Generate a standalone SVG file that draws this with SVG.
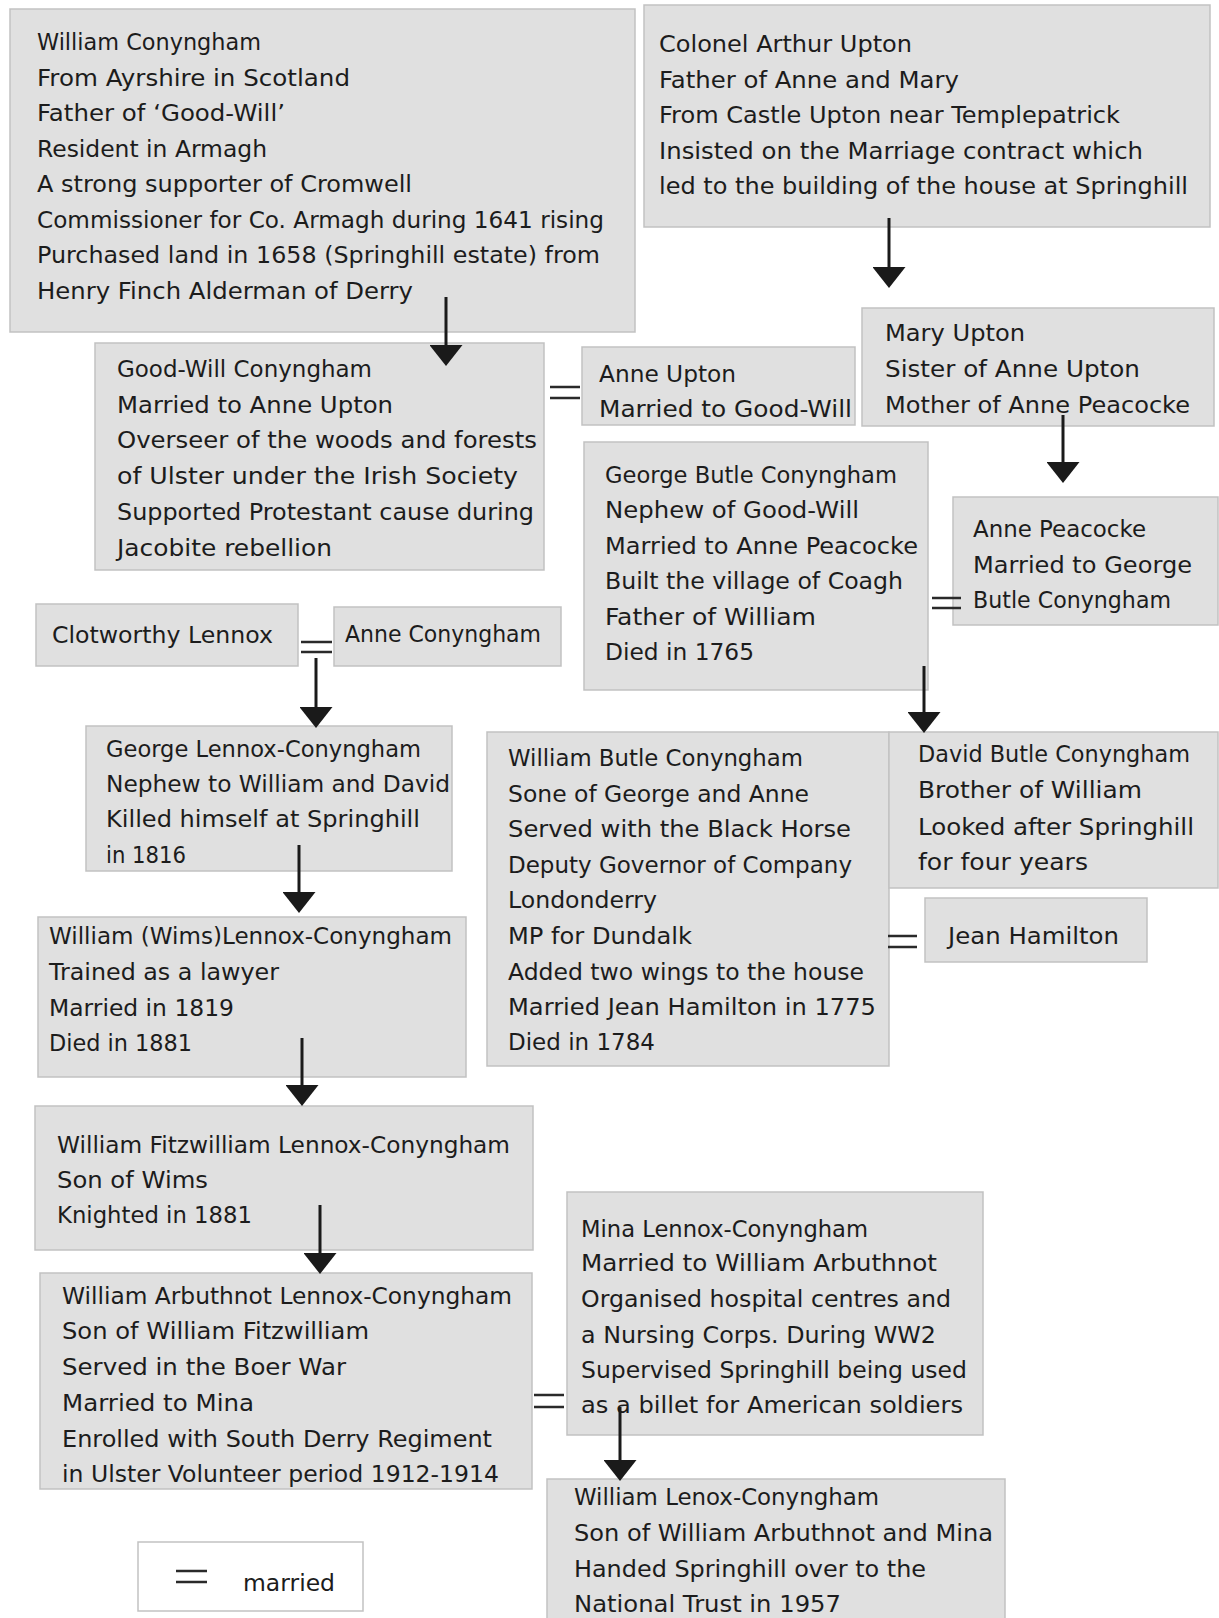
<svg xmlns="http://www.w3.org/2000/svg" width="1219" height="1618" viewBox="0 0 1219 1618">
<style>
.box{fill:#e0e0e0;stroke:#c2c2c2;stroke-width:1.5}
.leg{fill:#ffffff;stroke:#c2c2c2;stroke-width:1.5}
text{font-family:"DejaVu Sans","Liberation Sans",sans-serif;font-size:23.5px;fill:#1c1c1c}
.arr{stroke:#1a1a1a;stroke-width:3;fill:none}
.eq{stroke:#2a2a2a;stroke-width:2.5;fill:none}
</style>
<defs>
<marker id="head" markerUnits="userSpaceOnUse" markerWidth="21" markerHeight="33" viewBox="0 0 21 33" refX="0" refY="16.5" orient="auto">
<path d="M0,0 L21,16.5 L0,33 Z" fill="#1a1a1a"/>
</marker>
</defs>
<rect width="1219" height="1618" fill="#ffffff"/>

<g id="william-conyngham">
<rect class="box" x="10" y="9" width="625" height="323"/>
<text x="37" y="50" textLength="224" lengthAdjust="spacingAndGlyphs">William Conyngham</text>
<text x="37" y="85.5" textLength="313" lengthAdjust="spacingAndGlyphs">From Ayrshire in Scotland</text>
<text x="37" y="121" textLength="248" lengthAdjust="spacingAndGlyphs">Father of ‘Good-Will’</text>
<text x="37" y="156.5" textLength="230" lengthAdjust="spacingAndGlyphs">Resident in Armagh</text>
<text x="37" y="192" textLength="375" lengthAdjust="spacingAndGlyphs">A strong supporter of Cromwell</text>
<text x="37" y="227.5" textLength="567" lengthAdjust="spacingAndGlyphs">Commissioner for Co. Armagh during 1641 rising</text>
<text x="37" y="263" textLength="563" lengthAdjust="spacingAndGlyphs">Purchased land in 1658 (Springhill estate) from</text>
<text x="37" y="298.5" textLength="376" lengthAdjust="spacingAndGlyphs">Henry Finch Alderman of Derry</text>
</g>

<g id="arthur-upton">
<rect class="box" x="644" y="5" width="566" height="222"/>
<text x="659" y="52" textLength="253" lengthAdjust="spacingAndGlyphs">Colonel Arthur Upton</text>
<text x="659" y="87.5" textLength="300" lengthAdjust="spacingAndGlyphs">Father of Anne and Mary</text>
<text x="659" y="123" textLength="461" lengthAdjust="spacingAndGlyphs">From Castle Upton near Templepatrick</text>
<text x="659" y="158.5" textLength="484" lengthAdjust="spacingAndGlyphs">Insisted on the Marriage contract which</text>
<text x="659" y="194" textLength="529" lengthAdjust="spacingAndGlyphs">led to the building of the house at Springhill</text>
</g>

<g id="good-will-conyngham">
<rect class="box" x="95" y="343" width="449" height="227"/>
<text x="117" y="377" textLength="255" lengthAdjust="spacingAndGlyphs">Good-Will Conyngham</text>
<text x="117" y="413" textLength="276" lengthAdjust="spacingAndGlyphs">Married to Anne Upton</text>
<text x="117" y="448" textLength="420" lengthAdjust="spacingAndGlyphs">Overseer of the woods and forests</text>
<text x="117" y="484" textLength="401" lengthAdjust="spacingAndGlyphs">of Ulster under the Irish Society</text>
<text x="117" y="520" textLength="417" lengthAdjust="spacingAndGlyphs">Supported Protestant cause during</text>
<text x="117" y="556" textLength="215" lengthAdjust="spacingAndGlyphs">Jacobite rebellion</text>
</g>

<g id="anne-upton">
<rect class="box" x="582" y="347" width="273" height="78"/>
<text x="599" y="382" textLength="137" lengthAdjust="spacingAndGlyphs">Anne Upton</text>
<text x="599" y="417" textLength="253" lengthAdjust="spacingAndGlyphs">Married to Good-Will</text>
</g>

<g id="mary-upton">
<rect class="box" x="862" y="308" width="352" height="118"/>
<text x="885" y="341" textLength="140" lengthAdjust="spacingAndGlyphs">Mary Upton</text>
<text x="885" y="377" textLength="255" lengthAdjust="spacingAndGlyphs">Sister of Anne Upton</text>
<text x="885" y="413" textLength="305" lengthAdjust="spacingAndGlyphs">Mother of Anne Peacocke</text>
</g>

<g id="george-butle-conyngham">
<rect class="box" x="584" y="442" width="344" height="248"/>
<text x="605" y="483" textLength="292" lengthAdjust="spacingAndGlyphs">George Butle Conyngham</text>
<text x="605" y="518" textLength="254" lengthAdjust="spacingAndGlyphs">Nephew of Good-Will</text>
<text x="605" y="554" textLength="313" lengthAdjust="spacingAndGlyphs">Married to Anne Peacocke</text>
<text x="605" y="589" textLength="298" lengthAdjust="spacingAndGlyphs">Built the village of Coagh</text>
<text x="605" y="625" textLength="211" lengthAdjust="spacingAndGlyphs">Father of William</text>
<text x="605" y="660" textLength="149" lengthAdjust="spacingAndGlyphs">Died in 1765</text>
</g>

<g id="anne-peacocke">
<rect class="box" x="953" y="497" width="265" height="128"/>
<text x="973" y="537" textLength="173" lengthAdjust="spacingAndGlyphs">Anne Peacocke</text>
<text x="973" y="573" textLength="219" lengthAdjust="spacingAndGlyphs">Married to George</text>
<text x="973" y="608" textLength="198" lengthAdjust="spacingAndGlyphs">Butle Conyngham</text>
</g>

<g id="clotworthy-lennox">
<rect class="box" x="36" y="604" width="262" height="62"/>
<text x="52" y="643" textLength="221" lengthAdjust="spacingAndGlyphs">Clotworthy Lennox</text>
</g>

<g id="anne-conyngham">
<rect class="box" x="334" y="607" width="227" height="59"/>
<text x="345" y="642" textLength="196" lengthAdjust="spacingAndGlyphs">Anne Conyngham</text>
</g>

<g id="george-lennox-conyngham">
<rect class="box" x="86" y="726" width="366" height="145"/>
<text x="106" y="757" textLength="315" lengthAdjust="spacingAndGlyphs">George Lennox-Conyngham</text>
<text x="106" y="792" textLength="344" lengthAdjust="spacingAndGlyphs">Nephew to William and David</text>
<text x="106" y="827" textLength="314" lengthAdjust="spacingAndGlyphs">Killed himself at Springhill</text>
<text x="106" y="863" textLength="80" lengthAdjust="spacingAndGlyphs">in 1816</text>
</g>

<g id="wims-lennox-conyngham">
<rect class="box" x="38" y="917" width="428" height="160"/>
<text x="49" y="944" textLength="403" lengthAdjust="spacingAndGlyphs">William (Wims)Lennox-Conyngham</text>
<text x="49" y="980" textLength="230" lengthAdjust="spacingAndGlyphs">Trained as a lawyer</text>
<text x="49" y="1016" textLength="185" lengthAdjust="spacingAndGlyphs">Married in 1819</text>
<text x="49" y="1051" textLength="143" lengthAdjust="spacingAndGlyphs">Died in 1881</text>
</g>

<g id="william-fitzwilliam">
<rect class="box" x="35" y="1106" width="498" height="144"/>
<text x="57" y="1153" textLength="453" lengthAdjust="spacingAndGlyphs">William Fitzwilliam Lennox-Conyngham</text>
<text x="57" y="1188" textLength="151" lengthAdjust="spacingAndGlyphs">Son of Wims</text>
<text x="57" y="1223" textLength="195" lengthAdjust="spacingAndGlyphs">Knighted in 1881</text>
</g>

<g id="william-arbuthnot">
<rect class="box" x="40" y="1273" width="492" height="216"/>
<text x="62" y="1304" textLength="450" lengthAdjust="spacingAndGlyphs">William Arbuthnot Lennox-Conyngham</text>
<text x="62" y="1339" textLength="307" lengthAdjust="spacingAndGlyphs">Son of William Fitzwilliam</text>
<text x="62" y="1375" textLength="284" lengthAdjust="spacingAndGlyphs">Served in the Boer War</text>
<text x="62" y="1411" textLength="192" lengthAdjust="spacingAndGlyphs">Married to Mina</text>
<text x="62" y="1447" textLength="430" lengthAdjust="spacingAndGlyphs">Enrolled with South Derry Regiment</text>
<text x="62" y="1482" textLength="437" lengthAdjust="spacingAndGlyphs">in Ulster Volunteer period 1912-1914</text>
</g>

<g id="mina-lennox-conyngham">
<rect class="box" x="567" y="1192" width="416" height="243"/>
<text x="581" y="1237" textLength="287" lengthAdjust="spacingAndGlyphs">Mina Lennox-Conyngham</text>
<text x="581" y="1271" textLength="356" lengthAdjust="spacingAndGlyphs">Married to William Arbuthnot</text>
<text x="581" y="1307" textLength="370" lengthAdjust="spacingAndGlyphs">Organised hospital centres and</text>
<text x="581" y="1343" textLength="355" lengthAdjust="spacingAndGlyphs">a Nursing Corps. During WW2</text>
<text x="581" y="1378" textLength="386" lengthAdjust="spacingAndGlyphs">Supervised Springhill being used</text>
<text x="581" y="1413" textLength="382" lengthAdjust="spacingAndGlyphs">as a billet for American soldiers</text>
</g>

<g id="william-lenox-conyngham">
<rect class="box" x="547" y="1479" width="458" height="150"/>
<text x="574" y="1505" textLength="305" lengthAdjust="spacingAndGlyphs">William Lenox-Conyngham</text>
<text x="574" y="1541" textLength="419" lengthAdjust="spacingAndGlyphs">Son of William Arbuthnot and Mina</text>
<text x="574" y="1577" textLength="352" lengthAdjust="spacingAndGlyphs">Handed Springhill over to the</text>
<text x="574" y="1612" textLength="267" lengthAdjust="spacingAndGlyphs">National Trust in 1957</text>
</g>

<g id="william-butle-conyngham">
<rect class="box" x="487" y="732" width="402" height="334"/>
<text x="508" y="766" textLength="295" lengthAdjust="spacingAndGlyphs">William Butle Conyngham</text>
<text x="508" y="802" textLength="301" lengthAdjust="spacingAndGlyphs">Sone of George and Anne</text>
<text x="508" y="837" textLength="343" lengthAdjust="spacingAndGlyphs">Served with the Black Horse</text>
<text x="508" y="873" textLength="344" lengthAdjust="spacingAndGlyphs">Deputy Governor of Company</text>
<text x="508" y="908" textLength="149" lengthAdjust="spacingAndGlyphs">Londonderry</text>
<text x="508" y="944" textLength="184" lengthAdjust="spacingAndGlyphs">MP for Dundalk</text>
<text x="508" y="980" textLength="356" lengthAdjust="spacingAndGlyphs">Added two wings to the house</text>
<text x="508" y="1015" textLength="368" lengthAdjust="spacingAndGlyphs">Married Jean Hamilton in 1775</text>
<text x="508" y="1050" textLength="147" lengthAdjust="spacingAndGlyphs">Died in 1784</text>
</g>

<g id="david-butle-conyngham">
<rect class="box" x="889" y="732" width="329" height="156"/>
<text x="918" y="762" textLength="272" lengthAdjust="spacingAndGlyphs">David Butle Conyngham</text>
<text x="918" y="798" textLength="224" lengthAdjust="spacingAndGlyphs">Brother of William</text>
<text x="918" y="835" textLength="276" lengthAdjust="spacingAndGlyphs">Looked after Springhill</text>
<text x="918" y="870" textLength="170" lengthAdjust="spacingAndGlyphs">for four years</text>
</g>

<g id="jean-hamilton">
<rect class="box" x="925" y="898" width="222" height="64"/>
<text x="948" y="944" textLength="171" lengthAdjust="spacingAndGlyphs">Jean Hamilton</text>
</g>

<g id="legend">
<rect class="leg" x="138" y="1542" width="225" height="69"/>
<path class="eq" d="M176,1571 H207 M176,1582 H207"/>
<text x="243" y="1591" textLength="92" lengthAdjust="spacingAndGlyphs">married</text>
</g>

<g id="connectors">
<line class="arr" x1="446" y1="297" x2="446" y2="345" marker-end="url(#head)"/>
<line class="arr" x1="889" y1="218" x2="889" y2="267" marker-end="url(#head)"/>
<line class="arr" x1="1063" y1="415" x2="1063" y2="462" marker-end="url(#head)"/>
<line class="arr" x1="316" y1="658" x2="316" y2="707" marker-end="url(#head)"/>
<line class="arr" x1="299" y1="845" x2="299" y2="892" marker-end="url(#head)"/>
<line class="arr" x1="302" y1="1038" x2="302" y2="1085" marker-end="url(#head)"/>
<line class="arr" x1="320" y1="1205" x2="320" y2="1253" marker-end="url(#head)"/>
<line class="arr" x1="620" y1="1407" x2="620" y2="1460" marker-end="url(#head)"/>
<line class="arr" x1="924" y1="666" x2="924" y2="712" marker-end="url(#head)"/>
<path class="eq" d="M550,387 H580 M550,398 H580"/>
<path class="eq" d="M932,598 H961 M932,608 H961"/>
<path class="eq" d="M301,642 H332 M301,652 H332"/>
<path class="eq" d="M888,936 H917 M888,947 H917"/>
<path class="eq" d="M534,1395 H564 M534,1407 H564"/>
</g>
</svg>
